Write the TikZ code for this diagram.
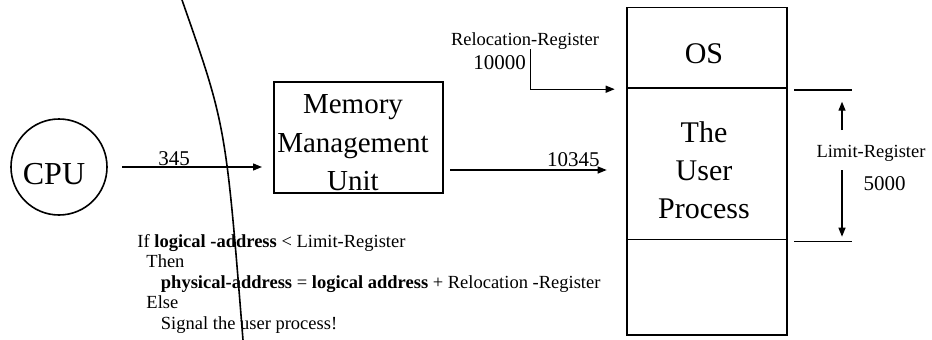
\documentclass[tikz,border=0pt]{standalone}
\usepackage{fontspec}
\setmainfont{Liberation Serif}
\usetikzlibrary{arrows.meta,calc}
\begin{document}
\begin{tikzpicture}[x=1pt,y=-1pt,line width=1.5pt,
  arr/.style={-{Triangle[length=9pt,width=7pt]},line width=1.3pt},
  blk/.style={draw,line width=1.6pt,inner sep=0pt,outer sep=0pt},
  big/.style={font=\fontsize{30}{38}\selectfont,align=center,inner sep=0pt},
  num/.style={font=\fontsize{21}{24}\selectfont,inner sep=0pt},
  small/.style={font=\fontsize{18.5}{20.5}\selectfont,inner sep=0pt}]
\useasboundingbox (0,0) rectangle (932,340);

% CPU
\node[blk,circle,minimum size=96pt] (cpu) at (59,167) {};
\node[big,font=\fontsize{32}{38}\selectfont] (cputext) at (54,174) {CPU};

% memory management unit
\node[blk,minimum width=169pt,minimum height=111pt] (mmu) at (358.5,137.5) {};
\node[big,font=\fontsize{29}{38.5}\selectfont] (mmutext) at (353,143) {Memory\\Management\\Unit};

% physical memory
\node[blk,minimum width=160pt,minimum height=80.4pt,anchor=north west] (os) at (626.7,7.3) {};
\node[blk,minimum width=160pt,minimum height=151.6pt,anchor=north] (user) at (os.south) {};
\node[blk,minimum width=160pt,minimum height=95.7pt,anchor=north] (free) at (user.south) {};
\node[big] (ostext) at (704,54) {OS};
\node[big] (usertext) at (704,170) {The\\User\\Process};

% logical address into the MMU
\draw[arr] ($(cpu.east)+(15,0)$) -- ($(mmu.west |- cpu)+(-12,0)$);
\node[num] (n345) at (174,159) {345};

% physical address out of the MMU
\coordinate (lvl) at (0,170);
\draw[arr] ($(mmu.east |- lvl)+(7,0)$) -- ($(user.west |- lvl)+(-20,0)$);
\node[num] (n10345) at (573.3,159.3) {10345};

% relocation register
\node[small] (reloc) at (525,40.7) {Relocation-Register};
\node[num] (n10000) at (499.7,62.7) {10000};
\coordinate (rtop) at (530.3,49.3);
\draw[arr] (rtop) |- ($(user.north west)+(-12,1.5)$);

% limit register
\coordinate (ltop) at (794,90);
\coordinate (lbot) at (794,241.7);
\draw (ltop) -- ++(58,0);
\draw (lbot) -- ++(58,0);
\coordinate (lua) at (842,130);
\coordinate (lub) at (842,101.7);
\coordinate (lda) at (842,170);
\coordinate (ldb) at (842,236.7);
\draw[arr] (lua) -- (lub);
\draw[arr] (lda) -- (ldb);
\node[small] (limit) at (871,153) {Limit-Register};
\node[num] (n5000) at (884.5,184) {5000};

% address check
\node[small,anchor=north west,align=left] (code) at (136.7,233.5)
  {If \textbf{logical -address} < Limit-Register\\
   \hspace*{9pt}Then\\
   \hspace*{23.5pt}\textbf{physical-address} = \textbf{logical address} + Relocation -Register\\
   \hspace*{9pt}Else\\
   \hspace*{23.5pt}Signal the user process!};

% boundary curve
\coordinate (ctop) at (182,0);
\coordinate (cbot) at (243,340);
\draw[line width=1.6pt] (ctop) .. controls (225.8,125) .. (cbot);
\end{tikzpicture}
\end{document}
